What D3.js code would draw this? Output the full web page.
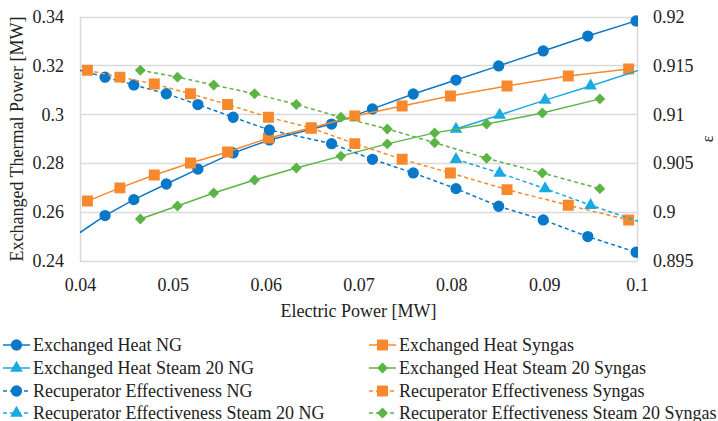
<!DOCTYPE html>
<html>
<head>
<meta charset="utf-8">
<script src="https://cdn.jsdelivr.net/npm/d3@7"></script>
<style>
  body { margin: 0; background: #fff; }
  svg text { font-family: "Liberation Serif", "Times New Roman", serif; fill: #222; }
</style>
</head>
<body>
<svg id="chart" width="718" height="421"></svg>
<script>
// electric power [MW] for each run
const xNG = [0.0385, 0.0427, 0.0458, 0.0493, 0.0527, 0.0565, 0.0604, 0.0671, 0.0715, 0.0759, 0.0805, 0.0851, 0.0899, 0.0947, 0.0999];
const xSyngas = [0.0408, 0.0443, 0.0480, 0.0519, 0.0559, 0.0603, 0.0649, 0.0696, 0.0747, 0.0799, 0.0860, 0.0926, 0.0991];
const xSteamNG = [0.0805, 0.0852, 0.0901, 0.0950, 0.1040];
const xSteamSyngas = [0.0465, 0.0505, 0.0544, 0.0588, 0.0633, 0.0681, 0.0731, 0.0782, 0.0838, 0.0898, 0.0960];

// exchanged thermal power [MW]
const heatNG = [0.2478, 0.2586, 0.2651, 0.2715, 0.2776, 0.2842, 0.2895, 0.2960, 0.3022, 0.3083, 0.3140, 0.3198, 0.3259, 0.3320, 0.3382];
const heatSyngas = [0.2645, 0.2699, 0.2752, 0.2801, 0.2846, 0.2903, 0.2944, 0.2993, 0.3034, 0.3075, 0.3116, 0.3157, 0.3185];
const heatSteamNG = [0.2940, 0.2997, 0.3058, 0.3116, 0.3227];
const heatSteamSyngas = [0.2572, 0.2625, 0.2678, 0.2731, 0.2780, 0.2829, 0.2879, 0.2924, 0.2960, 0.3005, 0.3063];

// recuperator effectiveness [-]
const effNG = [0.9149, 0.9138, 0.9130, 0.9121, 0.9110, 0.9097, 0.9084, 0.9070, 0.9054, 0.9040, 0.9024, 0.9006, 0.8992, 0.8975, 0.8959];
const effSyngas = [0.9145, 0.9138, 0.9131, 0.9121, 0.9110, 0.9097, 0.9086, 0.9070, 0.9054, 0.9040, 0.9023, 0.9007, 0.8992];
const effSteamNG = [0.9054, 0.9040, 0.9024, 0.9007, 0.8978];
const effSteamSyngas = [0.9145, 0.9138, 0.9130, 0.9121, 0.9110, 0.9097, 0.9085, 0.9071, 0.9055, 0.9040, 0.9024];

const xTicks = [0.04, 0.05, 0.06, 0.07, 0.08, 0.09, 0.1];
const leftTicks = [0.24, 0.26, 0.28, 0.3, 0.32, 0.34];
const rightTicks = [0.895, 0.9, 0.905, 0.91, 0.915, 0.92];

const BLUE = "#0a78c8", ORANGE = "#f7882b", CYAN = "#1aa9e1", GREEN = "#5db446";
const FONT = "'Liberation Serif', 'Times New Roman', serif";

// order = drawing order = legend reading order
const series = [
    { name: "Exchanged Heat NG", x: xNG, y: heatNG, axis: "L", color: BLUE, sym: "circle", dash: false },
    { name: "Exchanged Heat Syngas", x: xSyngas, y: heatSyngas, axis: "L", color: ORANGE, sym: "square", dash: false },
    { name: "Exchanged Heat Steam 20 NG", x: xSteamNG, y: heatSteamNG, axis: "L", color: CYAN, sym: "triangle", dash: false },
    { name: "Exchanged Heat Steam 20 Syngas", x: xSteamSyngas, y: heatSteamSyngas, axis: "L", color: GREEN, sym: "diamond", dash: false },
    { name: "Recuperator Effectiveness NG", x: xNG, y: effNG, axis: "R", color: BLUE, sym: "circle", dash: true },
    { name: "Recuperator Effectiveness Syngas", x: xSyngas, y: effSyngas, axis: "R", color: ORANGE, sym: "square", dash: true },
    { name: "Recuperator Effectiveness Steam 20 NG", x: xSteamNG, y: effSteamNG, axis: "R", color: CYAN, sym: "triangle", dash: true },
    { name: "Recuperator Effectiveness Steam 20 Syngas", x: xSteamSyngas, y: effSteamSyngas, axis: "R", color: GREEN, sym: "diamond", dash: true }
];

const plot = { left: 80, right: 637, top: 16.5, bottom: 261 };

const svg = d3.select("#chart");

const x = d3.scaleLinear().domain([0.04, 0.1]).range([plot.left, plot.right]);
const yL = d3.scaleLinear().domain([0.24, 0.34]).range([plot.bottom, plot.top]);
const yR = d3.scaleLinear().domain([0.895, 0.92]).range([plot.bottom, plot.top]);

// square diamond (Excel style), d3's own diamond is too tall
const squareDiamond = {
    draw(ctx, size) {
        const r = Math.sqrt(size / 2);
        ctx.moveTo(0, -r);
        ctx.lineTo(r, 0);
        ctx.lineTo(0, r);
        ctx.lineTo(-r, 0);
        ctx.closePath();
    }
};

const symbols = {
    circle: d3.symbol().type(d3.symbolCircle).size(100),
    square: d3.symbol().type(d3.symbolSquare).size(120),
    triangle: d3.symbol().type(d3.symbolTriangle).size(70),
    diamond: d3.symbol().type(squareDiamond).size(60)
};

svg.append("clipPath")
    .attr("id", "plot-clip")
    .append("rect")
    .attr("x", plot.left)
    .attr("y", plot.top - 10)
    .attr("width", plot.right - plot.left + 1)
    .attr("height", plot.bottom - plot.top + 20);

// horizontal gridlines
svg.append("g")
    .selectAll("line")
    .data(leftTicks)
    .enter()
    .append("line")
    .attr("x1", plot.left)
    .attr("x2", plot.right)
    .attr("y1", d => Math.round(yL(d)) + 0.5)
    .attr("y2", d => Math.round(yL(d)) + 0.5)
    .attr("stroke", "#d9d9d9")
    .attr("stroke-width", 1.5);

// vertical axis lines
[plot.left, plot.right].forEach(px => {
    svg.append("line")
        .attr("x1", px + 0.5).attr("x2", px + 0.5)
        .attr("y1", plot.top).attr("y2", plot.bottom)
        .attr("stroke", "#d9d9d9")
        .attr("stroke-width", 1.5);
});

// axes (tick labels only)
const xAxis = svg.append("g")
    .attr("transform", `translate(0, ${plot.bottom})`)
    .call(d3.axisBottom(x).tickValues(xTicks).tickSize(0).tickPadding(17).tickFormat(d3.format("")));
const leftAxis = svg.append("g")
    .attr("transform", `translate(${plot.left}, 0)`)
    .call(d3.axisLeft(yL).tickValues(leftTicks).tickSize(0).tickPadding(16).tickFormat(d3.format("")));
const rightAxis = svg.append("g")
    .attr("transform", `translate(${plot.right}, 0)`)
    .call(d3.axisRight(yR).tickValues(rightTicks).tickSize(0).tickPadding(16).tickFormat(d3.format("")));
[xAxis, leftAxis, rightAxis].forEach(a => {
    a.attr("font-family", FONT).attr("font-size", 18);
    a.select(".domain").remove();
    a.selectAll("text").attr("fill", "#222");
});

// series
const lines = svg.append("g").attr("clip-path", "url(#plot-clip)");
series.forEach(s => {
    const yScale = s.axis === "L" ? yL : yR;
    const pts = s.x.map((v, i) => [v, s.y[i]]);
    const g = lines.append("g");
    g.append("path")
        .datum(pts)
        .attr("fill", "none")
        .attr("stroke", s.color)
        .attr("stroke-width", 1.5)
        .attr("stroke-dasharray", s.dash ? "4,3" : null)
        .attr("d", d3.line().x(d => x(d[0])).y(d => yScale(d[1])));
    g.selectAll("path.mk")
        .data(pts)
        .enter()
        .append("path")
        .attr("class", "mk")
        .attr("transform", d => `translate(${x(d[0])}, ${yScale(d[1])})`)
        .attr("d", symbols[s.sym])
        .attr("fill", s.color);
});

// axis titles
svg.append("text")
    .attr("x", (plot.left + plot.right) / 2)
    .attr("y", 317)
    .attr("text-anchor", "middle")
    .style("font-size", "18px")
    .text("Electric Power [MW]");

svg.append("text")
    .attr("transform", `translate(23, 139) rotate(-90)`)
    .attr("text-anchor", "middle")
    .style("font-size", "18px")
    .text("Exchanged Thermal Power [MW]");

svg.append("text")
    .attr("transform", `translate(713, 139) rotate(-90)`)
    .attr("text-anchor", "middle")
    .style("font-size", "16px")
    .text("ε");

// legend, two columns filled row by row
const legendRows = [345, 368, 391, 413];
const legendCols = [3, 369];
const legend = svg.append("g");
series.forEach((s, i) => {
    const col = i % 2;
    const row = Math.floor(i / 2);
    const lx = legendCols[col], ly = legendRows[row];
    const item = legend.append("g").attr("transform", `translate(${lx}, ${ly})`);
    item.append("line")
        .attr("x1", 0).attr("x2", 27)
        .attr("y1", 0).attr("y2", 0)
        .attr("stroke", s.color)
        .attr("stroke-width", 1.5)
        .attr("stroke-dasharray", s.dash ? "4,3" : null);
    item.append("path")
        .attr("transform", "translate(13.5, 0)")
        .attr("d", symbols[s.sym])
        .attr("fill", s.color);
    item.append("text")
        .attr("x", 30)
        .attr("y", 5.5)
        .style("font-size", "18px")
        .text(s.name);
});
</script>
</body>
</html>
